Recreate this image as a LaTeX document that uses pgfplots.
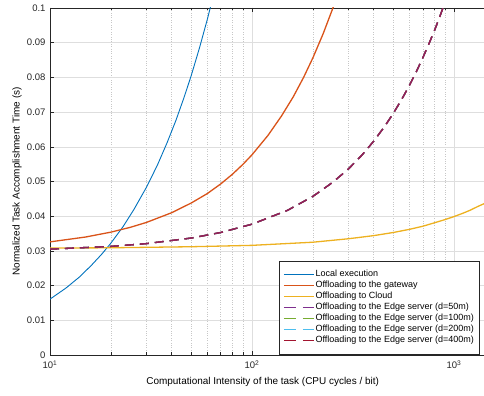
\documentclass[border=0pt]{standalone}
\usepackage{pgfplots}
\usepackage{pgfplotstable}
\pgfplotsset{compat=1.18}
\usepackage{fontspec}
\setmainfont{Liberation Sans}
\definecolor{mblue}{rgb}{0,0.447,0.741}
\definecolor{morange}{rgb}{0.850,0.325,0.098}
\definecolor{myellow}{rgb}{0.929,0.694,0.125}
\definecolor{mpurple}{rgb}{0.494,0.184,0.556}
\definecolor{mgreen}{rgb}{0.466,0.674,0.188}
\definecolor{mcyan}{rgb}{0.301,0.745,0.933}
\definecolor{mmaroon}{rgb}{0.635,0.078,0.184}
\definecolor{axisgray}{rgb}{0.15,0.15,0.15}
\pgfplotsset{
  legend image code/.code={\draw[#1, line width=1.5bp] (0bp,0bp) -- (30bp,0bp);},
  dashedleg/.style={legend image code/.code={\draw[##1, line width=1.5bp, dash pattern=on 12bp off 7bp] (0bp,0bp) -- (30bp,0bp);}}}
\pgfplotstableread{
x y
10 0.0305
20 0.0313
30 0.0321
50 0.0337
70 0.0353
100 0.0377
150 0.0417
200 0.0457
250 0.0497
300 0.0536
350 0.0576
400 0.0616
450 0.0656
500 0.0696
550 0.0736
600 0.0776
650 0.0816
700 0.0856
750 0.0896
800 0.0935
850 0.0975
881 0.1000
900 0.1015
}\edgedata
\begin{document}
\begin{tikzpicture}
\useasboundingbox (-50bp,-41bp) rectangle (434bp,355bp);
\begin{axis}[
  at={(0,0)}, anchor=south west,
  scale only axis, width=434bp, height=347bp,
  xmode=log, xmin=10, xmax=1407, ymin=0, ymax=0.1,
  axis y line*=left,
  axis line style={draw=axisgray, line width=0.6bp},
  tick style={draw=axisgray, line width=0.5bp},
  major tick length=4bp, minor tick length=2.5bp,
  xtick={10,100,1000},
  xticklabels={10\textsuperscript{1},10\textsuperscript{2},10\textsuperscript{3}},
  ytick={0,0.01,0.02,0.03,0.04,0.05,0.06,0.07,0.08,0.09,0.1},
  yticklabels={0,0.01,0.02,0.03,0.04,0.05,0.06,0.07,0.08,0.09,0.1},
  ticklabel style={font=\fontsize{9.5bp}{11bp}\selectfont, text=axisgray},
  xticklabel style={yshift=-2bp},
  yticklabel style={xshift=-1bp},
  xmajorgrids, ymajorgrids, xminorgrids,
  major grid style={draw=black!13, line width=0.5bp},
  minor grid style={draw=black!22, dotted, line width=0.5bp},
  xlabel={Computational Intensity of the task (CPU cycles / bit)},
  ylabel={Normalized Task Accomplishment Time (s)},
  label style={font=\fontsize{10.3bp}{12bp}\selectfont, text=axisgray},
  every axis x label/.style={at={(axis description cs:0.49,-0.0778)}, anchor=center},
  every axis y label/.style={at={(axis description cs:-0.076,0.5)}, anchor=center, rotate=90},
  legend style={at={(rel axis cs:0.9885,0.003)}, anchor=south east, draw=axisgray,
    font=\fontsize{9bp}{10bp}\selectfont, inner xsep=4bp, inner ysep=8bp,
    nodes={inner sep=1bp, text height=6.5bp, text depth=2bp}, row sep=0.5bp},
  legend cell align=left,
]
\addplot[mblue, line width=0.9bp] coordinates {
(10,0.0161) (12,0.0193) (14,0.0225) (16,0.0258) (18,0.0290) (20,0.0322) (23,0.0370) (26,0.0419)
(30,0.0483) (34,0.0547) (38,0.0612) (42,0.0676) (46,0.0741) (50,0.0805) (55,0.0886) (60,0.0966) (62.1,0.1) (64,0.1030)};
\addlegendentry{Local execution}
\addplot[morange, line width=1.3bp] coordinates {
(10,0.0326) (15,0.0340) (20,0.0354) (25,0.0368) (30,0.0382) (40,0.0410) (50,0.0438) (60,0.0465) (70,0.0493)
(80,0.0521) (90,0.0549) (100,0.0577) (120,0.0633) (140,0.0689) (160,0.0744) (180,0.0800) (200,0.0856)
(225,0.0926) (251.4,0.1) (260,0.1023)};
\addlegendentry{Offloading to the gateway}
\addplot[myellow, line width=1.3bp] coordinates {
(10,0.0308) (20,0.0309) (50,0.0312) (100,0.0316) (200,0.0325) (300,0.0335) (400,0.0344) (500,0.0353)
(600,0.0362) (700,0.0371) (800,0.0381) (900,0.0390) (1000,0.0399) (1100,0.0408) (1200,0.0417)
(1300,0.0427) (1407,0.0436)};
\addlegendentry{Offloading to Cloud}
\addplot[mpurple, line width=1.3bp, dash pattern=on 9bp off 6bp, dashedleg] table {\edgedata};
\addlegendentry{Offloading to the Edge server (d=50m)}
\addplot[mgreen, line width=1.3bp, dash pattern=on 9bp off 6bp, dashedleg] table {\edgedata};
\addlegendentry{Offloading to the Edge server (d=100m)}
\addplot[mcyan, line width=1.3bp, dash pattern=on 9bp off 6bp, dashedleg] table {\edgedata};
\addlegendentry{Offloading to the Edge server (d=200m)}
\addplot[mmaroon, line width=1.3bp, dash pattern=on 9bp off 6bp, dashedleg] table {\edgedata};
\addlegendentry{Offloading to the Edge server (d=400m)}
\addplot[mpurple!45!mmaroon, line width=1.3bp, dash pattern=on 9bp off 6bp, forget plot] table {\edgedata};
\end{axis}
\end{tikzpicture}
\end{document}
